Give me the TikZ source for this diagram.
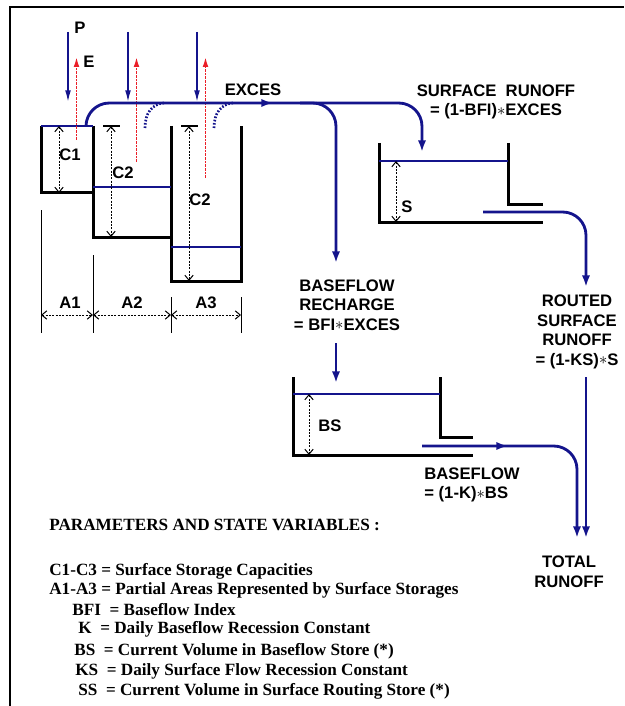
\documentclass[tikz,border=0pt]{standalone}
\usepackage{fontspec}
\setmainfont{Liberation Serif}
\newfontfamily\arialfont{Liberation Sans}
\usetikzlibrary{arrows.meta}
\definecolor{navy}{RGB}{20,20,140}
\definecolor{evapred}{RGB}{235,30,40}
\newcommand{\mult}{\raisebox{0.1ex}{$\ast$}}

\begin{document}
\begin{tikzpicture}[x=0.6pt,y=-0.6pt,
    wall/.style={line width=1.8pt},
    level/.style={line width=1.7pt,navy},
    flow/.style={line width=1.7pt,navy,rounded corners=14pt},
    tip/.style={-{Latex[length=7pt,width=5pt]}},
    rain/.style={line width=0.9pt,navy,-{Latex[length=7pt,width=3.5pt]}},
    evap/.style={line width=1pt,evapred,dash pattern=on 1.5pt off 0.7pt,-{Latex[length=6pt,width=3.5pt]}},
    spill/.style={line width=1.6pt,navy,dash pattern=on 1pt off 1pt},
    dim/.style={line width=0.6pt,dash pattern=on 1.2pt off 0.8pt,{Straight Barb[length=3pt,width=5pt]}-{Straight Barb[length=3pt,width=5pt]}},
    lbl/.style={font=\arialfont\bfseries\fontsize{10}{11.8}\selectfont,inner sep=0pt,align=center},
    legend/.style={font=\bfseries\fontsize{10.3}{12.4}\selectfont,anchor=base west,inner sep=0pt}]
    \useasboundingbox (0,0) rectangle (624,706);
    % frame
    \draw[line width=1.5pt] (10,706) -- (10,7) -- (624,7);

    % surface stores A1-A3
    \draw[wall] (41,126) -- (41,193) -- (93,193);
    \draw[wall] (93,126) -- (93,237) -- (171,237);
    \draw[wall] (171,126) -- (171,281) -- (241,281) -- (241,126);
    \draw[level] (41,126) -- (93,126);
    \draw[level] (93,187) -- (171,187);
    \draw[level] (171,247) -- (241,247);
    \draw[dim] (59,126) -- (59,193);
    \draw[dim] (111,126) -- (111,237);
    \draw[dim] (189,126) -- (189,281);
    \draw[line width=1pt] (103,126) -- (120,126);
    \draw[line width=1pt] (181,126) -- (198,126);
    \node[lbl] (c1) at (70,155) {C1};
    \node[lbl] (c2a) at (123,173) {C2};
    \node[lbl] (c2b) at (200,200) {C2};

    % rain and evaporation
    \foreach \x/\y in {68/140,128/162,197/178}{
        \draw[rain] (\x,32) -- (\x,102);
        \draw[evap] (\x+8.5,\y) -- (\x+8.5,57);
    }
    \node[lbl] (p) at (80,28) {P};
    \node[lbl] (e) at (89,62) {E};

    % spill over
    \draw[spill] (145,128) .. controls (145,113) and (152,104) .. (164,103);
    \draw[spill] (214,128) .. controls (214,113) and (221,104) .. (233,103);

    % partial areas
    \draw[line width=0.6pt] (41,210) -- (41,333);
    \draw[line width=0.6pt] (93,255) -- (93,333);
    \draw[line width=0.6pt] (171,297) -- (171,333);
    \draw[line width=0.6pt] (241,297) -- (241,333);
    \draw[dim] (41,315) -- (93,315);
    \draw[dim] (93,315) -- (171,315);
    \draw[dim] (171,315) -- (241,315);
    \node[lbl] (a1) at (70,303) {A1};
    \node[lbl] (a2) at (132,303) {A2};
    \node[lbl] (a3) at (206,303) {A3};

    % excess and split
    \draw[flow,tip] (86,126) |- (300,103) -| (422,152);
    \draw[flow,tip] (240,103) -- (273,103);
    \draw[flow,tip] (300,103) -| (336,263);
    \node[lbl] (exces) at (253,90) {EXCES};
    \node[lbl] (srunoff) at (496,102) {SURFACE~~RUNOFF\\= (1-BFI)\mult EXCES};
    \node[lbl] (recharge) at (347,305) {BASEFLOW\\RECHARGE\\= BFI\mult EXCES};
    \draw[flow,tip] (336,343) -- (336,383);

    % surface routing store
    \draw[wall] (379,143) -- (379,222) -- (543,222);
    \draw[wall] (508,143) -- (508,204) -- (543,204);
    \draw[level] (379,161) -- (508,161);
    \draw[dim] (396,161) -- (396,222);
    \node[lbl] (s) at (407,207) {S};
    \draw[flow,tip] (483,212) -| (586,287);
    \node[lbl] (routed) at (577,332) {ROUTED\\SURFACE\\RUNOFF\\= (1-KS)\mult S};

    % baseflow store
    \draw[wall] (293,377) -- (293,455) -- (473,455);
    \draw[wall] (440,377) -- (440,437) -- (473,437);
    \draw[level] (293,394) -- (440,394);
    \draw[dim] (309,394) -- (309,455);
    \node[lbl] (bs) at (330,426) {BS};
    \draw[flow,tip] (422,446) -| (577,538);
    \draw[flow,tip] (470,446) -- (508,446);
    \node[lbl,anchor=west,align=left] (baseflow) at (424,485) {BASEFLOW\\= (1-K)\mult BS};

    % total runoff
    \draw[flow,tip] (586,377) -- (586,538);
    \node[lbl] (total) at (569,572) {TOTAL\\RUNOFF};

    % legend
    \node[legend] (title) at (49,530) {PARAMETERS AND STATE VARIABLES :};
    \foreach \x/\y/\txt [count=\i] in {
        49/575/{C1-C3 = Surface Storage Capacities},
        49/594/{A1-A3 = Partial Areas Represented by Surface Storages},
        72/615/{BFI\ \ = Baseflow Index},
        78/633/{K\ \ = Daily Baseflow Recession Constant},
        74/655/{BS\ \ = Current Volume in Baseflow Store (*)},
        75/675/{KS\ \ = Daily Surface Flow Recession Constant},
        78/695/{SS\ \ = Current Volume in Surface Routing Store (*)}}
        \node[legend] (leg\i) at (\x,\y) {\txt};
\end{tikzpicture}
\end{document}
